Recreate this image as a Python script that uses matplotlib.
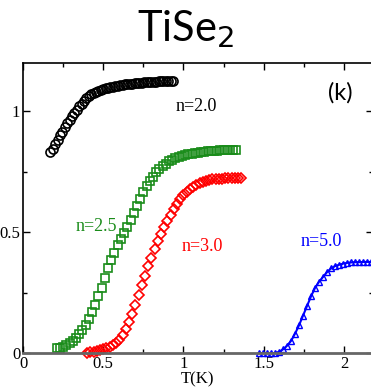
import numpy as np
import matplotlib
matplotlib.use("Agg")
import matplotlib.pyplot as plt
from matplotlib.ticker import MultipleLocator

# n = 2.0 (black circles)
t_n20 = [0.170, 0.185, 0.200, 0.215, 0.230, 0.245, 0.260, 0.275, 0.290, 0.305,
         0.320, 0.335, 0.350, 0.365, 0.380, 0.395, 0.410, 0.425, 0.440, 0.455,
         0.470, 0.485, 0.500, 0.515, 0.530, 0.545, 0.560, 0.575, 0.590, 0.605,
         0.620, 0.635, 0.650, 0.665, 0.680, 0.695, 0.710, 0.725, 0.740, 0.755,
         0.770, 0.785, 0.800, 0.815, 0.830, 0.845, 0.860, 0.875, 0.890, 0.905,
         0.920, 0.935]
y_n20 = [0.83, 0.845, 0.865, 0.88, 0.90, 0.915, 0.935, 0.95, 0.965, 0.98,
         0.995, 1.005, 1.02, 1.032, 1.043, 1.053, 1.062, 1.07, 1.076, 1.081,
         1.085, 1.089, 1.092, 1.095, 1.098, 1.10, 1.102, 1.104, 1.106, 1.108,
         1.11, 1.111, 1.113, 1.114, 1.115, 1.116, 1.117, 1.118, 1.119, 1.12,
         1.121, 1.121, 1.122, 1.123, 1.123, 1.124, 1.124, 1.125, 1.125, 1.126,
         1.126, 1.127]

# n = 2.5 (green squares)
t_n25 = [0.21, 0.23, 0.25, 0.27, 0.29, 0.31, 0.33, 0.35, 0.37, 0.39, 0.41, 0.43,
         0.45, 0.47, 0.49, 0.51, 0.53, 0.55, 0.57, 0.59, 0.61, 0.63, 0.65, 0.67,
         0.69, 0.71, 0.73, 0.75, 0.77, 0.79, 0.81, 0.83, 0.85, 0.87, 0.89, 0.91,
         0.93, 0.95, 0.97, 0.99, 1.01, 1.03, 1.05, 1.07, 1.09, 1.11, 1.13, 1.15,
         1.17, 1.19, 1.21, 1.23, 1.25, 1.27, 1.29, 1.31, 1.33]
y_n25 = [0.02, 0.022, 0.026, 0.032, 0.04, 0.05, 0.062, 0.077, 0.095, 0.117, 0.142, 0.17,
         0.20, 0.235, 0.27, 0.31, 0.35, 0.385, 0.415, 0.445, 0.47, 0.497, 0.523, 0.55,
         0.578, 0.608, 0.638, 0.665, 0.69, 0.712, 0.73, 0.747, 0.761, 0.773, 0.784, 0.793,
         0.80, 0.806, 0.811, 0.815, 0.819, 0.822, 0.825, 0.827, 0.829, 0.831, 0.833, 0.834,
         0.835, 0.836, 0.837, 0.838, 0.839, 0.839, 0.84, 0.84, 0.841]

# n = 3.0 (red diamonds)
t_n30 = [0.40, 0.42, 0.44, 0.46, 0.48, 0.50, 0.52, 0.54, 0.56, 0.58, 0.60, 0.62,
         0.64, 0.66, 0.68, 0.70, 0.72, 0.74, 0.76, 0.78, 0.80, 0.82, 0.84, 0.86,
         0.88, 0.90, 0.92, 0.94, 0.96, 0.98, 1.00, 1.02, 1.04, 1.06, 1.08, 1.10,
         1.12, 1.14, 1.16, 1.18, 1.20, 1.22, 1.24, 1.26, 1.28, 1.30, 1.32, 1.34, 1.36]
y_n30 = [0.0, 0.003, 0.006, 0.009, 0.012, 0.016, 0.02, 0.026, 0.033, 0.043, 0.056, 0.074,
         0.098, 0.128, 0.162, 0.20, 0.24, 0.28, 0.32, 0.36, 0.395, 0.43, 0.462, 0.492,
         0.52, 0.547, 0.572, 0.596, 0.617, 0.636, 0.652, 0.666, 0.678, 0.688, 0.696, 0.703,
         0.708, 0.712, 0.715, 0.718, 0.72, 0.721, 0.722, 0.723, 0.724, 0.724, 0.725, 0.725, 0.725]

# n = 5.0 (blue triangles + line)
t_n50 = [1.47, 1.495, 1.52, 1.545, 1.57, 1.595, 1.62, 1.645, 1.67, 1.695, 1.72, 1.745,
         1.77, 1.795, 1.82, 1.845, 1.87, 1.895, 1.92, 1.945, 1.97, 1.995, 2.02, 2.045,
         2.07, 2.095, 2.12, 2.145, 2.17]
y_n50 = [0.0, 0.0, 0.0, 0.0, 0.0, 0.005, 0.015, 0.03, 0.05, 0.08, 0.115, 0.155,
         0.195, 0.235, 0.27, 0.295, 0.315, 0.335, 0.35, 0.36, 0.365, 0.37, 0.373, 0.375,
         0.376, 0.376, 0.377, 0.377, 0.377]

labels = ["n=2.0", "n=2.5", "n=3.0", "n=5.0"]
xticks = [0, 0.5, 1, 1.5, 2]
xticklabels = ["0", "0.5", "1", "1.5", "2"]
yticks = [0, 0.5, 1]
yticklabels = ["0", "0.5", "1"]

serif = "Liberation Serif"
green = "#1a8c1a"

fig = plt.figure(figsize=(3.71, 3.91), dpi=100)
ax = fig.add_axes([0.062, 0.097, 0.943, 0.742])

ax.plot(t_n20, y_n20, "o", mfc="none", mec="black", ms=6.5, mew=1.2, clip_on=False)
ax.plot(t_n25, y_n25, "s", mfc="none", mec=green, ms=5.5, mew=1.2, clip_on=False)
ax.plot(t_n30, y_n30, "D", mfc="none", mec="red", ms=5, mew=1.2, clip_on=False)
ax.plot(t_n50, y_n50, "-^", color="blue", mfc="none", mec="blue", ms=5, mew=1.0, lw=1.5,
        clip_on=False)

ax.text(0.95, 1.02, labels[0], color="black", family=serif, fontsize=13, va="center")
ax.text(0.325, 0.525, labels[1], color=green, family=serif, fontsize=13, va="center")
ax.text(0.99, 0.44, labels[2], color="red", family=serif, fontsize=13, va="center")
ax.text(1.73, 0.46, labels[3], color="blue", family=serif, fontsize=13, va="center")
ax.text(1.98, 1.075, "(k)", family="Lato", fontsize=17, ha="center", va="center")

ax.set_xlim(0, 2.18)
ax.set_ylim(0, 1.2)
ax.set_xticks(xticks)
ax.set_xticklabels(xticklabels, family=serif, fontsize=12)
ax.set_yticks(yticks)
ax.set_yticklabels(yticklabels, family=serif, fontsize=12)
ax.xaxis.set_minor_locator(MultipleLocator(0.25))
ax.yaxis.set_minor_locator(MultipleLocator(0.25))
ax.tick_params(which="both", direction="in", top=True, right=True, length=5, width=1,
               pad=2)
ax.tick_params(which="minor", length=3)
ax.set_xlabel("T(K)", family=serif, fontsize=12, labelpad=0)

for s in ax.spines.values():
    s.set_linewidth(1.2)
ax.spines["bottom"].set_color("#666666")
ax.spines["bottom"].set_linewidth(2)

fig.text(0.5, 0.925, "TiSe$_2$", family="Lato", fontsize=30, ha="center", va="center")

fig.savefig("out.png", dpi=100)
